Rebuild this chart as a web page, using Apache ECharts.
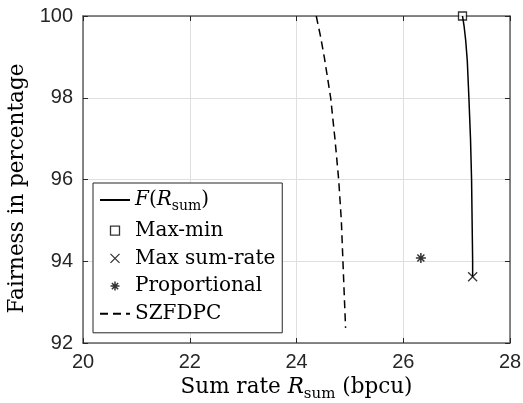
<!DOCTYPE html>
<html><head><meta charset="utf-8">
<script src="https://cdn.jsdelivr.net/npm/echarts@6/dist/echarts.min.js"></script>
<style>html,body{margin:0;padding:0;background:#fff}#c{width:523px;height:403px}</style>
</head><body><div id="c"></div>
<script>
// ---- data ----
const xTicks = [20, 22, 24, 26, 28];
const yTicks = [92, 94, 96, 98, 100];
const seriesNames = ['F(Rsum)', 'Max-min', 'Max sum-rate', 'Proportional', 'SZFDPC'];
const fRate = [27.11, 27.14, 27.17, 27.20, 27.23, 27.26, 27.28, 27.29, 27.30, 27.30];
const fFair = [100, 99.75, 99.4, 98.9, 98, 97, 96, 95, 94, 93.62];
const maxMinRate = [27.11];
const maxMinFair = [100];
const maxSumRate = [27.30];
const maxSumFair = [93.62];
const propRate = [26.33];
const propFair = [94.08];
const szRate = [24.37, 24.45, 24.52, 24.58, 24.64, 24.72, 24.79, 24.84, 24.87, 24.90, 24.92];
const szFair = [100, 99.5, 99, 98.5, 98, 97, 96, 95, 94, 93, 92.37];

const zip = (a, b) => a.map((v, i) => [v, b[i]]);
const serif = 'DejaVu Serif';
const sans = 'Liberation Sans';
const axisColor = '#262626';
const boxColor = '#606060';
const gridColor = '#dfdfdf';
const xInt = xTicks[1] - xTicks[0];
const yInt = yTicks[1] - yTicks[0];

const richLegend = {
  i: { fontFamily: serif, fontStyle: 'italic', fontSize: 20, color: '#000' },
  sub: { fontFamily: serif, fontSize: 14, color: '#000', padding: [12, 0, 0, 0] }
};
const richName = {
  i: { fontFamily: serif, fontStyle: 'italic', fontSize: 21.5, color: '#000' },
  sub: { fontFamily: serif, fontSize: 15, color: '#000', padding: [12, 0, 0, 0] }
};

const rectPath = 'path://M0,0L10,0L10,10L0,10Z';
const crossPath = 'path://M0,0L10,10M10,0L0,10';
const starPath = 'path://M5,0L5,10M0,5L10,5M1.5,1.5L8.5,8.5M8.5,1.5L1.5,8.5';

const tickCommon = { show: true, inside: true, length: 5, lineStyle: { color: axisColor } };
const lineCommon = { show: true, onZero: false, lineStyle: { color: boxColor, width: 1.5 } };

const chart = echarts.init(document.getElementById('c'), null, { renderer: 'canvas' });
chart.setOption({
  animation: false,
  backgroundColor: '#fff',
  grid: { left: 83, right: 13, top: 16, bottom: 60, containLabel: false, outerBoundsMode: 'none' },
  xAxis: [{
    type: 'value', min: xTicks[0], max: xTicks[xTicks.length - 1], interval: xInt,
    axisLine: lineCommon, axisTick: tickCommon,
    axisLabel: { fontFamily: sans, fontSize: 20, color: axisColor, margin: 9 },
    splitLine: { show: true, lineStyle: { color: gridColor, width: 1 } },
    name: 'Sum rate {i|R}{sub|sum} (bpcu)',
    nameLocation: 'middle', nameGap: 31,
    nameTextStyle: { fontFamily: serif, fontSize: 21.5, color: '#000', rich: richName }
  }, {
    type: 'value', position: 'top', min: xTicks[0], max: xTicks[xTicks.length - 1], interval: xInt,
    axisLine: lineCommon, axisTick: tickCommon,
    axisLabel: { show: false }, splitLine: { show: false }
  }],
  yAxis: [{
    type: 'value', min: yTicks[0], max: yTicks[yTicks.length - 1], interval: yInt,
    axisLine: lineCommon, axisTick: tickCommon,
    axisLabel: { fontFamily: sans, fontSize: 20, color: axisColor, margin: 10 },
    splitLine: { show: true, lineStyle: { color: gridColor, width: 1 } },
    name: 'Fairness in percentage',
    nameLocation: 'middle', nameGap: 54,
    nameTextStyle: { fontFamily: serif, fontSize: 21.5, color: '#000', padding: [0, 18, 0, 0] }
  }, {
    type: 'value', position: 'right', min: yTicks[0], max: yTicks[yTicks.length - 1], interval: yInt,
    axisLine: lineCommon, axisTick: tickCommon,
    axisLabel: { show: false }, splitLine: { show: false }
  }],
  legend: {
    orient: 'vertical', left: 93, top: 183,
    padding: [7, 7, 9, 6],
    itemWidth: 30, itemHeight: 9, itemGap: 7.7,
    backgroundColor: '#fff', borderColor: axisColor, borderWidth: 1, borderRadius: 0,
    textStyle: { fontFamily: serif, fontSize: 20, color: '#000', lineHeight: 20, rich: richLegend },
    formatter: name => name === seriesNames[0] ? '{i|F}({i|R}{sub|sum})' : name,
    data: [
      { name: seriesNames[0], itemStyle: { opacity: 0 } },
      { name: seriesNames[1], icon: rectPath, itemStyle: { color: '#fff', borderColor: '#000', borderWidth: 1.3 } },
      { name: seriesNames[2], icon: crossPath, itemStyle: { color: 'none', borderColor: '#000', borderWidth: 1.3 } },
      { name: seriesNames[3], icon: starPath, itemStyle: { color: 'none', borderColor: '#000', borderWidth: 1.5 } },
      { name: seriesNames[4], itemStyle: { opacity: 0 } }
    ]
  },
  series: [{
    name: seriesNames[0], type: 'line', data: zip(fRate, fFair),
    showSymbol: false, symbol: 'none', color: '#000',
    lineStyle: { color: '#000', width: 1.5 }
  }, {
    name: seriesNames[1], type: 'scatter', data: zip(maxMinRate, maxMinFair),
    symbol: rectPath, symbolSize: 8, color: '#000',
    itemStyle: { color: '#fff', borderColor: '#000', borderWidth: 1.3 }
  }, {
    name: seriesNames[2], type: 'scatter', data: zip(maxSumRate, maxSumFair),
    symbol: crossPath, symbolSize: 9, color: '#000',
    itemStyle: { color: 'none', borderColor: '#000', borderWidth: 1.3 }
  }, {
    name: seriesNames[3], type: 'scatter', data: zip(propRate, propFair),
    symbol: starPath, symbolSize: 10, color: '#000',
    itemStyle: { color: 'none', borderColor: '#000', borderWidth: 1.5 }
  }, {
    name: seriesNames[4], type: 'line', data: zip(szRate, szFair),
    showSymbol: false, symbol: 'none', color: '#000',
    lineStyle: { color: '#000', width: 1.5, type: [8, 5] }
  }]
});
</script></body></html>
